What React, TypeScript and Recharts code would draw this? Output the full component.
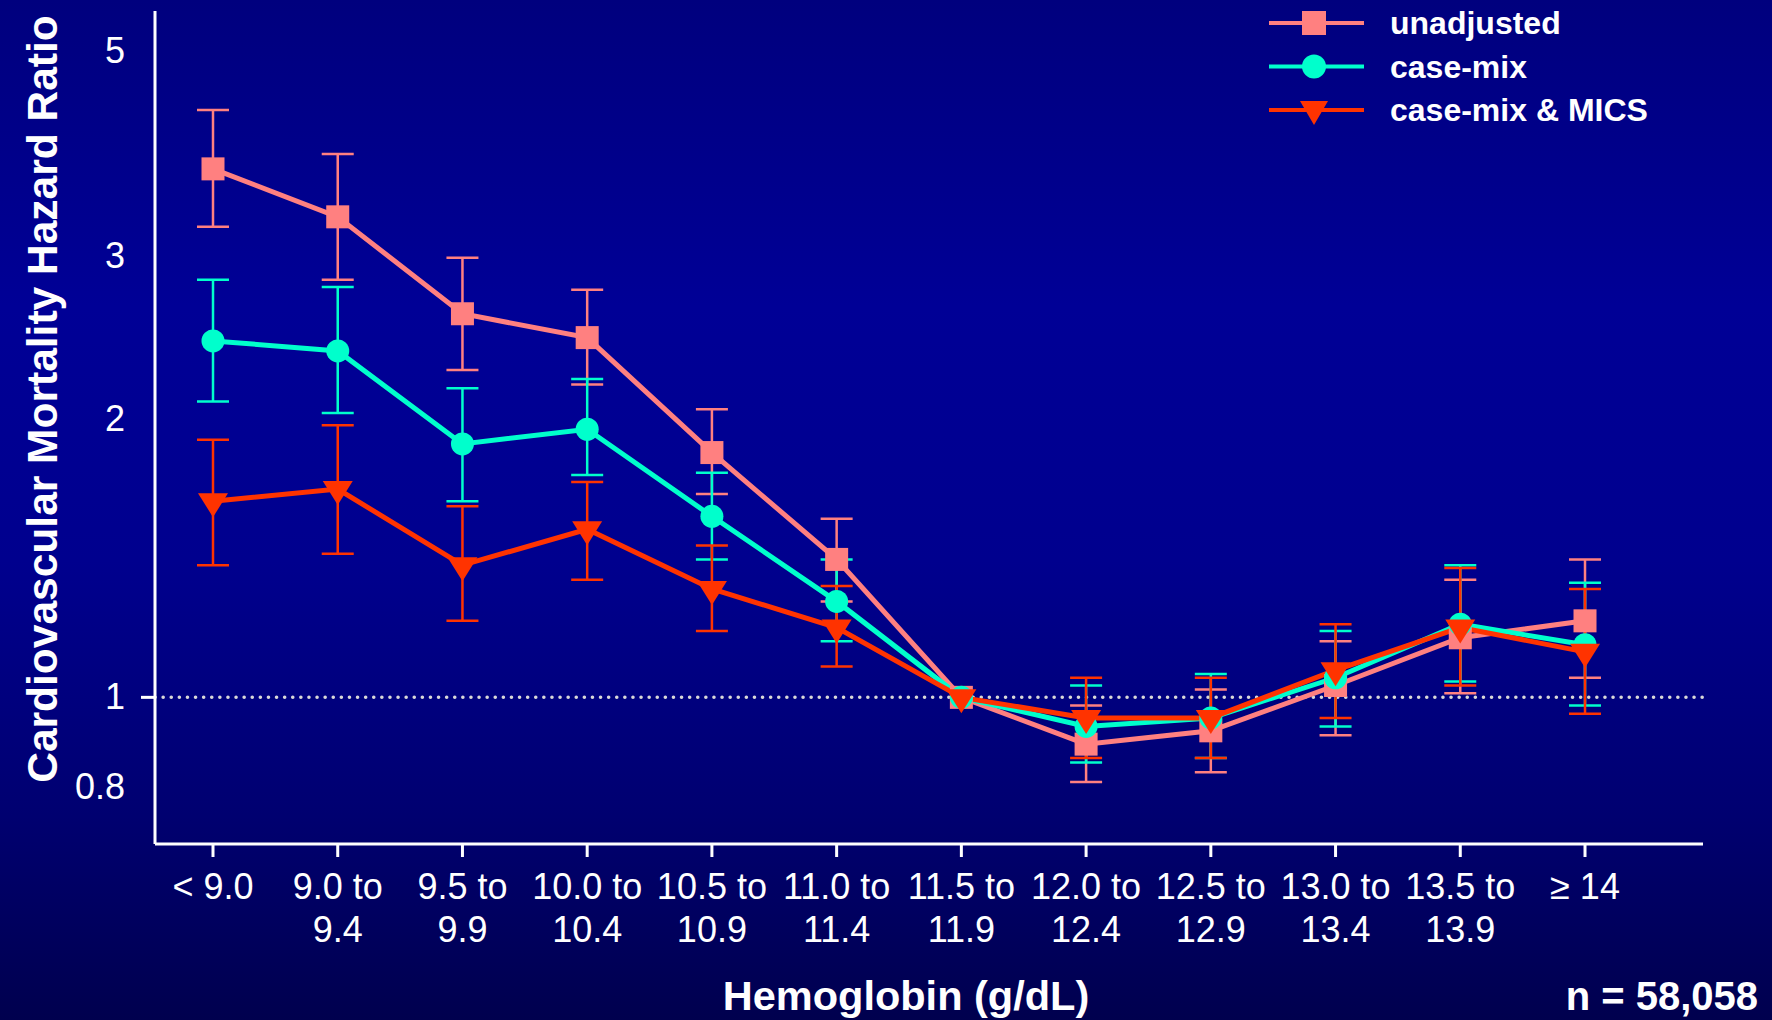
import React from 'react';
import { LineChart, Line, XAxis, YAxis, ErrorBar, ReferenceLine, Legend, Label } from 'recharts';

// hemoglobin bands (x categories), two text lines each
const bandLines = [
  ['< 9.0'], ['9.0 to', '9.4'], ['9.5 to', '9.9'], ['10.0 to', '10.4'], ['10.5 to', '10.9'],
  ['11.0 to', '11.4'], ['11.5 to', '11.9'], ['12.0 to', '12.4'], ['12.5 to', '12.9'],
  ['13.0 to', '13.4'], ['13.5 to', '13.9'], ['\u2265 14'],
];

// hazard ratios (reference band 11.5-11.9 = 1)
const unadjusted = [3.73, 3.31, 2.6, 2.45, 1.84, 1.41, 1.0, 0.89, 0.92, 1.03, 1.16, 1.21];
const unadjustedLow = [3.23, 2.83, 2.26, 2.18, 1.66, 1.27, null, 0.81, 0.83, 0.91, 1.01, 1.05];
const unadjustedHigh = [4.32, 3.87, 2.99, 2.76, 2.05, 1.56, null, 0.98, 1.02, 1.15, 1.34, 1.41];

const caseMix = [2.43, 2.37, 1.88, 1.95, 1.57, 1.27, 1.0, 0.93, 0.95, 1.05, 1.2, 1.14];
const caseMixLow = [2.09, 2.03, 1.63, 1.74, 1.41, 1.15, null, 0.85, 0.86, 0.93, 1.04, 0.98];
const caseMixHigh = [2.83, 2.78, 2.16, 2.21, 1.75, 1.41, null, 1.03, 1.06, 1.18, 1.39, 1.33];

const mics = [1.63, 1.68, 1.39, 1.52, 1.31, 1.19, 1.0, 0.95, 0.95, 1.07, 1.19, 1.12];
const micsLow = [1.39, 1.43, 1.21, 1.34, 1.18, 1.08, null, 0.86, 0.86, 0.95, 1.03, 0.96];
const micsHigh = [1.9, 1.97, 1.61, 1.71, 1.46, 1.32, null, 1.05, 1.05, 1.2, 1.38, 1.31];

const yTicks = [0.8, 1, 2, 3, 5];

const PINK = '#ff8080';
const TEAL = '#00ffcc';
const RED = '#ff3300';
const FONT = '"Liberation Sans", Arial, sans-serif';

const err = (v: number, lo: number | null, hi: number | null) =>
  lo == null || hi == null ? null : [v - lo, hi - v];

const data = bandLines.map((_, i) => ({
  idx: i,
  u: unadjusted[i],
  uErr: err(unadjusted[i], unadjustedLow[i], unadjustedHigh[i]),
  c: caseMix[i],
  cErr: err(caseMix[i], caseMixLow[i], caseMixHigh[i]),
  m: mics[i],
  mErr: err(mics[i], micsLow[i], micsHigh[i]),
}));

const SquareDot = (p: any) => (
  <rect key={`s${p.index}`} x={p.cx - 11.5} y={p.cy - 11.5} width={23} height={23} fill={PINK} />
);
const CircleDot = (p: any) => (
  <circle key={`c${p.index}`} cx={p.cx} cy={p.cy} r={11.5} fill={TEAL} />
);
const TriDot = (p: any) => (
  <polygon
    key={`t${p.index}`}
    points={`${p.cx - 15},${p.cy - 8} ${p.cx + 15},${p.cy - 8} ${p.cx},${p.cy + 16}`}
    fill={RED}
  />
);

const XTick = ({ x, y, payload }: any) => {
  const lines = bandLines[payload.value] || [];
  return (
    <g>
      {lines.map((t, k) => (
        <text key={k} x={x} y={y + 40 + k * 43} textAnchor="middle" fill="#fff" fontSize={36} fontFamily={FONT}>
          {t}
        </text>
      ))}
    </g>
  );
};

const YTick = ({ y, payload }: any) => (
  <g>
    <text x={125} y={y + 12} textAnchor="end" fill="#fff" fontSize={36} fontFamily={FONT}>
      {payload.value}
    </text>
    {payload.value === 1 && <line x1={141} x2={155} y1={y} y2={y} stroke="#fff" strokeWidth={3} />}
  </g>
);

const legendRows = [
  { name: 'unadjusted', color: PINK, shape: 'square' },
  { name: 'case-mix', color: TEAL, shape: 'circle' },
  { name: 'case-mix & MICS', color: RED, shape: 'tri' },
];

const LegendBox = () => (
  <svg width={500} height={130}>
    {legendRows.map((r, i) => {
      const cy = 23 + i * 43.5;
      return (
        <g key={r.name}>
          <line x1={7} x2={102} y1={cy} y2={cy} stroke={r.color} strokeWidth={4} />
          {r.shape === 'square' && <rect x={40} y={cy - 12} width={24} height={24} fill={r.color} />}
          {r.shape === 'circle' && <circle cx={52} cy={cy} r={12} fill={r.color} />}
          {r.shape === 'tri' && (
            <polygon points={`${38},${cy - 9} ${66},${cy - 9} ${52},${cy + 15}`} fill={r.color} />
          )}
          <text x={128} y={cy + 11} fill="#fff" fontSize={32} fontWeight="bold" fontFamily={FONT}>
            {r.name}
          </text>
        </g>
      );
    })}
  </svg>
);

export default function App() {
  return (
    <div
      style={{
        width: 1772,
        height: 1020,
        position: 'relative',
        fontFamily: FONT,
        background:
          'linear-gradient(to bottom, #00007e 0%, #000096 30%, #00008e 55%, #000070 80%, #00004e 100%)',
      }}
    >
      <style>{'body{margin:0}'}</style>
      <LineChart width={1772} height={1020} data={data} margin={{ top: 11, right: 69, left: 0, bottom: 0 }}>
        <XAxis
          dataKey="idx"
          type="number"
          domain={[-0.465, 11.946]}
          ticks={[0, 1, 2, 3, 4, 5, 6, 7, 8, 9, 10, 11]}
          allowDataOverflow
          height={176}
          stroke="#fff"
          axisLine={{ stroke: '#fff', strokeWidth: 3 }}
          tickLine={{ stroke: '#fff', strokeWidth: 3 }}
          tickSize={13}
          tick={<XTick />}
          interval={0}
        >
          <Label
            content={() => (
              <text x={906} y={1010} textAnchor="middle" fill="#fff" fontSize={41.5} fontWeight="bold" fontFamily={FONT}>
                Hemoglobin (g/dL)
              </text>
            )}
          />
          <Label
            content={() => (
              <text x={1758} y={1010} textAnchor="end" fill="#fff" fontSize={40} fontWeight="bold" fontFamily={FONT}>
                n = 58,058
              </text>
            )}
          />
        </XAxis>
        <YAxis
          scale="log"
          domain={[0.694, 5.527]}
          allowDataOverflow
          ticks={yTicks}
          width={155}
          axisLine={{ stroke: '#fff', strokeWidth: 3 }}
          tickLine={false}
          tick={<YTick />}
          interval={0}
        >
          <Label
            content={() => (
              <text
                x={42}
                y={399}
                transform="rotate(-90 42 399)"
                textAnchor="middle"
                dominantBaseline="central"
                fill="#fff"
                fontSize={42.5}
                fontWeight="bold"
                fontFamily={FONT}
              >
                Cardiovascular Mortality Hazard Ratio
              </text>
            )}
          />
        </YAxis>
        <ReferenceLine y={1} stroke="#d8d8d8" strokeWidth={3.5} strokeDasharray="0.1 8" strokeLinecap="round" />
        <Line dataKey="u" stroke={PINK} strokeWidth={5} dot={SquareDot} activeDot={false} isAnimationActive={false}>
          <ErrorBar dataKey="uErr" direction="y" width={16} strokeWidth={2.5} stroke={PINK} />
        </Line>
        <Line dataKey="c" stroke={TEAL} strokeWidth={5} dot={CircleDot} activeDot={false} isAnimationActive={false}>
          <ErrorBar dataKey="cErr" direction="y" width={16} strokeWidth={2.5} stroke={TEAL} />
        </Line>
        <Line dataKey="m" stroke={RED} strokeWidth={5} dot={TriDot} activeDot={false} isAnimationActive={false}>
          <ErrorBar dataKey="mErr" direction="y" width={16} strokeWidth={2.5} stroke={RED} />
        </Line>
        <Legend
          layout="horizontal"
          verticalAlign="middle"
          align="center"
          wrapperStyle={{ position: 'absolute', top: 0, left: 1262, width: 500, height: 130 }}
          content={() => <LegendBox />}
        />
      </LineChart>
    </div>
  );
}
